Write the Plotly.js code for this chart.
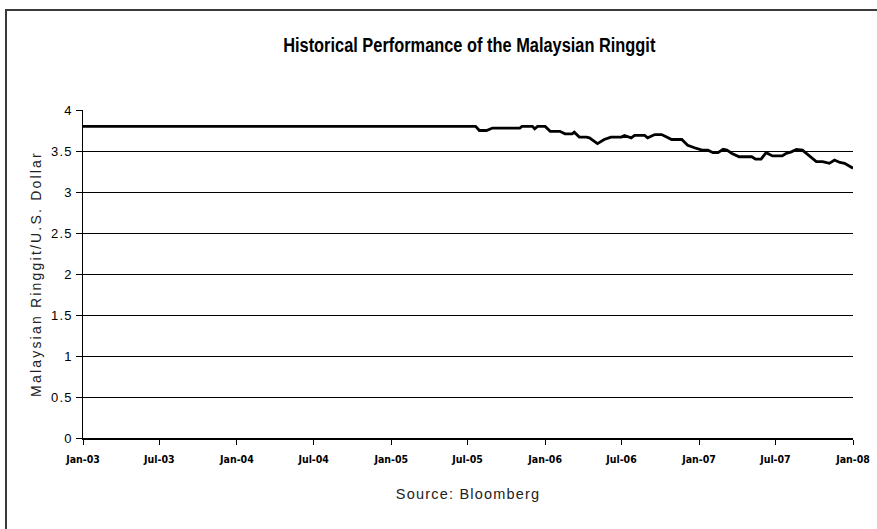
<!DOCTYPE html>
<html>
<head>
<meta charset="utf-8">
<script src="https://cdn.plot.ly/plotly-3.0.1.min.js"></script>
<style>
  html, body { margin: 0; padding: 0; background: #fff; overflow: hidden; }
  #chart { position: absolute; left: 0; top: 0; width: 877px; height: 529px; }
  #frame { position: absolute; left: 5px; top: 9px; width: 900px; height: 560px;
           border: 2px solid #3a3a3a; pointer-events: none; }
  #chart .gtitle { transform-box: fill-box; transform-origin: center; transform: scaleX(0.78); }
  #chart .ytitle { letter-spacing: 2.2px; }
  #chart .annotation-text { letter-spacing: 1.2px; }
  #chart .ytick text { letter-spacing: 1.3px; }
</style>
</head>
<body>
<div id="chart"></div>
<div id="frame"></div>
<script>
// Dates and MYR per USD
const dates = [
  "2003-01-01", "2005-07-20",
  "2005-07-29", "2005-08-15", "2005-08-29", "2005-11-02", "2005-11-07", "2005-12-02",
  "2005-12-07", "2005-12-14", "2006-01-01", "2006-01-13", "2006-02-05", "2006-02-17",
  "2006-03-06", "2006-03-11", "2006-03-23", "2006-04-09", "2006-04-16", "2006-05-05",
  "2006-05-21", "2006-06-06", "2006-07-01", "2006-07-08", "2006-07-24", "2006-08-01",
  "2006-08-25", "2006-09-01", "2006-09-18", "2006-10-04", "2006-10-16", "2006-10-28",
  "2006-11-21", "2006-12-05", "2006-12-21", "2007-01-08", "2007-01-22", "2007-02-03",
  "2007-02-15", "2007-02-27", "2007-03-08", "2007-03-20", "2007-04-06", "2007-05-06",
  "2007-05-15", "2007-05-28", "2007-06-09", "2007-06-24", "2007-07-17", "2007-07-26",
  "2007-08-08", "2007-08-20", "2007-09-03", "2007-09-20", "2007-10-06", "2007-10-21",
  "2007-11-06", "2007-11-18", "2007-12-01", "2007-12-12", "2008-01-01"
];
const ringgit = [
  3.80, 3.80,
  3.75, 3.75, 3.78, 3.78, 3.80, 3.80,
  3.77, 3.80, 3.80, 3.74, 3.74, 3.71,
  3.71, 3.73, 3.67, 3.67, 3.66, 3.59,
  3.64, 3.67, 3.67, 3.69, 3.66, 3.69,
  3.69, 3.66, 3.70, 3.70, 3.67, 3.64,
  3.64, 3.57, 3.54, 3.51, 3.51, 3.48,
  3.48, 3.52, 3.51, 3.47, 3.43, 3.43,
  3.40, 3.40, 3.48, 3.44, 3.44, 3.47,
  3.49, 3.52, 3.51, 3.44, 3.37, 3.37,
  3.35, 3.39, 3.36, 3.35, 3.29
];
const xTickVals = ["2003-01-01", "2003-07-01", "2004-01-01", "2004-07-01", "2005-01-01",
                   "2005-07-01", "2006-01-01", "2006-07-01", "2007-01-01", "2007-07-01", "2008-01-01"];
const xTickText = ["Jan-03", "Jul-03", "Jan-04", "Jul-04", "Jan-05",
                   "Jul-05", "Jan-06", "Jul-06", "Jan-07", "Jul-07", "Jan-08"];
const yTickVals = [0, 0.5, 1, 1.5, 2, 2.5, 3, 3.5, 4];
const yTickText = ["0", "0.5", "1", "1.5", "2", "2.5", "3", "3.5", "4"];

const trace = {
  x: dates, y: ringgit, type: "scatter", mode: "lines",
  line: { color: "#000", width: 2.8 },
  hoverinfo: "skip"
};

const layout = {
  width: 877, height: 529,
  margin: { l: 83, r: 24, t: 110, b: 91 },
  paper_bgcolor: "#fff", plot_bgcolor: "#fff",
  showlegend: false,
  title: {
    text: "<b>Historical Performance of the Malaysian Ringgit</b>",
    font: { family: "Liberation Sans, Arial, sans-serif", size: 21, color: "#000" },
    x: 0.535, xanchor: "center", y: 0.915, yanchor: "middle"
  },
  xaxis: {
    type: "date",
    range: ["2003-01-01", "2008-01-01"],
    tickmode: "array", tickvals: xTickVals, ticktext: xTickText,
    showgrid: false, zeroline: false,
    showline: true, linecolor: "#000", linewidth: 1.5,
    ticks: "outside", ticklen: 5, tickcolor: "#000", tickwidth: 1,
    ticklabelstandoff: 6,
    tickangle: 0,
    tickfont: { family: "DejaVu Sans Condensed, Liberation Sans, sans-serif", size: 10.5, color: "#000", weight: "bold" }
  },
  yaxis: {
    range: [0, 4],
    tickmode: "array", tickvals: yTickVals, ticktext: yTickText,
    showgrid: true, gridcolor: "#000", gridwidth: 1,
    zeroline: false,
    showline: true, linecolor: "#000", linewidth: 1.5,
    ticks: "outside", ticklen: 6, tickcolor: "#000", tickwidth: 1,
    tickfont: { family: "Liberation Sans, Arial, sans-serif", size: 13, color: "#000" },
    title: {
      text: "Malaysian Ringgit/U.S. Dollar",
      font: { family: "Liberation Sans, Arial, sans-serif", size: 14, color: "#222" },
      standoff: 10
    }
  },
  annotations: [{
    text: "Source: Bloomberg",
    xref: "paper", yref: "paper", x: 0.5, y: -0.171,
    xanchor: "center", yanchor: "middle", showarrow: false,
    font: { family: "Liberation Sans, Arial, sans-serif", size: 14.5, color: "#222" }
  }]
};

Plotly.newPlot("chart", [trace], layout, { staticPlot: true, displayModeBar: false });
</script>
</body>
</html>
